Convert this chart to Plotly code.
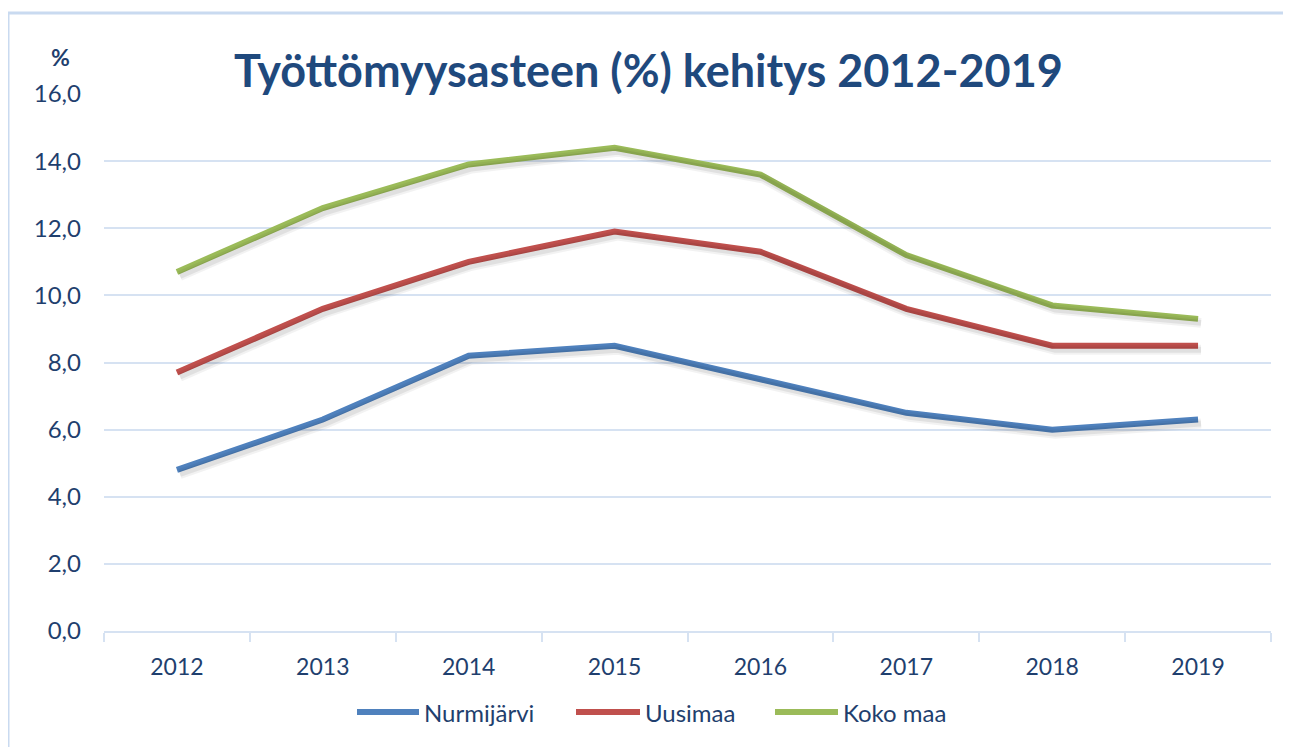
import plotly.graph_objects as go

years = ["2012", "2013", "2014", "2015", "2016", "2017", "2018", "2019"]
nurmijarvi = [4.8, 6.3, 8.2, 8.5, 7.5, 6.5, 6.0, 6.3]
uusimaa = [7.7, 9.6, 11.0, 11.9, 11.3, 9.6, 8.5, 8.5]
koko_maa = [10.7, 12.6, 13.9, 14.4, 13.6, 11.2, 9.7, 9.3]

series_names = ["Nurmijärvi", "Uusimaa", "Koko maa"]
series_values = [nurmijarvi, uusimaa, koko_maa]
colors = ["#4F81BD", "#C0504D", "#9BBB59"]

FONT = "Lato"
TXT = "#1F3F6E"
GRID = "#D6E2F2"

# page offset (browser body margin)
O = 8
W, H = 1291 - O, 747 - O
# target plot area in screenshot pixels
X0, X1, Y0, Y1 = 104, 1271, 94, 631
L, R, T, B = X0 - O, W - (X1 - O), Y0 - O, H - (Y1 - O)
pw, ph = W - L - R, H - T - B

def px(x):
    return (x - O - L) / pw

def py(y):
    return (H - B - (y - O)) / ph

# shadow offset (pixels) realised through shifted overlay axes
sx, sy = 3, 4
xr = [-0.5, 7.5]
yr = [0, 16]
dx = sx * (xr[1] - xr[0]) / pw
dy = sy * (yr[1] - yr[0]) / ph

fig = go.Figure()
for name, vals in zip(series_names, series_values):
    fig.add_trace(go.Scatter(x=years, y=vals, mode="lines", showlegend=False, hoverinfo="skip",
                             line=dict(color="rgba(0,0,0,0.05)", width=10),
                             xaxis="x2", yaxis="y2"))
    fig.add_trace(go.Scatter(x=years, y=vals, mode="lines", showlegend=False, hoverinfo="skip",
                             line=dict(color="rgba(0,0,0,0.07)", width=6),
                             xaxis="x2", yaxis="y2"))
for name, vals, col in zip(series_names, series_values, colors):
    fig.add_trace(go.Scatter(x=years, y=vals, name=name, mode="lines", showlegend=False,
                             line=dict(color=col, width=6)))

# legend drawn manually
leg_lines = [(357, 419), (576, 640), (775, 838)]
legend_shapes = []
legend_ann = []
for (a, b), name, col in zip(leg_lines, series_names, colors):
    legend_shapes.append(dict(type="line", xref="paper", yref="paper", x0=px(a), x1=px(b),
                              y0=py(712), y1=py(712), line=dict(color=col, width=6)))
    legend_ann.append(dict(text=name, xref="paper", yref="paper", x=px(b + 3), y=py(712),
                           xanchor="left", yanchor="middle", showarrow=False,
                           font=dict(size=24, color=TXT, family=FONT)))

fig.update_layout(
    width=W, height=H,
    margin=dict(l=L, r=R, t=T, b=B, autoexpand=False),
    paper_bgcolor="white", plot_bgcolor="white",
    separators=", ",
    font=dict(family=FONT, color=TXT, size=23),
    showlegend=False,
    xaxis=dict(type="category", range=xr, showgrid=False, showline=True,
               linecolor=GRID, linewidth=2,
               ticks="outside", tickson="boundaries", ticklen=9, tickcolor=GRID, tickwidth=2,
               tickfont=dict(size=23, color=TXT), ticklabelstandoff=14),
    yaxis=dict(range=yr, tickvals=[0, 2, 4, 6, 8, 10, 12, 14, 16], tickformat=".1f",
               showgrid=True, gridcolor=GRID, gridwidth=2, zeroline=False, showline=False,
               tickfont=dict(size=24, color=TXT), ticklabelstandoff=22),
    xaxis2=dict(type="category", overlaying="x", range=[xr[0] - dx, xr[1] - dx], visible=False),
    yaxis2=dict(overlaying="y", range=[yr[0] + dy, yr[1] + dy], visible=False),
    annotations=[
        dict(text="<b>Työttömyysasteen (%) kehitys 2012-2019</b>", xref="paper", yref="paper",
             x=px(648), y=py(70), xanchor="center", yanchor="middle", showarrow=False,
             font=dict(size=45, color="#1F497D", family=FONT)),
        dict(text="<b>%</b>", xref="paper", yref="paper", x=px(60), y=py(57), xanchor="center",
             yanchor="middle", showarrow=False, font=dict(size=23, color=TXT, family=FONT)),
    ] + legend_ann,
    shapes=[
        dict(type="rect", xref="paper", yref="paper", x0=px(8), x1=px(1286), y0=py(752), y1=py(13),
             line=dict(color="#C9DAF0", width=3), fillcolor="rgba(0,0,0,0)", layer="below"),
    ] + legend_shapes,
)

fig.write_html("out.html")
